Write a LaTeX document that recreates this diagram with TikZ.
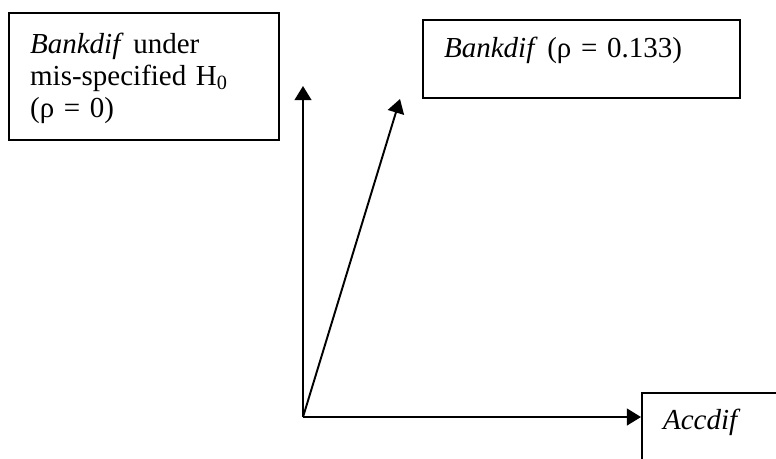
\documentclass[tikz,border=0pt]{standalone}
\usepackage{fontspec}
\setmainfont{Liberation Serif}
\usetikzlibrary{arrows.meta,positioning}

\newcommand{\boxfont}{\fontsize{16.5}{18.2}\selectfont\spaceskip=2.8pt plus 1pt minus 0.5pt\relax}

\tikzset{
  varbox/.style={draw,line width=1.3pt,anchor=north west,inner xsep=0.42cm,inner ysep=0pt,
    align=left,font=\boxfont},
  vecline/.style={->,line width=1.1pt}
}

\begin{document}
\begin{tikzpicture}[x=0.02cm,y=-0.02cm,>={Triangle[length=8pt,width=9.5pt]}]
    \useasboundingbox (0,0) rectangle (776,458);
    \clip (0,0) rectangle (776,458);

    % Boxes
    \node[varbox,text width=4.56cm,text height=0.8cm,text depth=1.74cm] (h0) at (8,12)
        {\textit{Bankdif} under\\ mis-specified H\textsubscript{0}\\ (ρ = 0)};
    \node[varbox,text width=5.5cm,text height=0.74cm,text depth=0.82cm] (bank) at (422,19)
        {\textit{Bankdif} (ρ = 0.133)};
    \node[varbox,text width=3cm,text height=0.72cm,text depth=1.6cm] (acc) at (641,392)
        {\textit{Accdif}};

    % Vectors
    \coordinate (o) at (303,417);
    \coordinate (vtip) at (303,86);
    \coordinate (dtip) at (400,99);
    \draw[vecline] (o) -- (vtip);
    \draw[vecline] (o) -- (dtip);
    \draw[vecline] (o) -- (o -| acc.west);
\end{tikzpicture}
\end{document}
